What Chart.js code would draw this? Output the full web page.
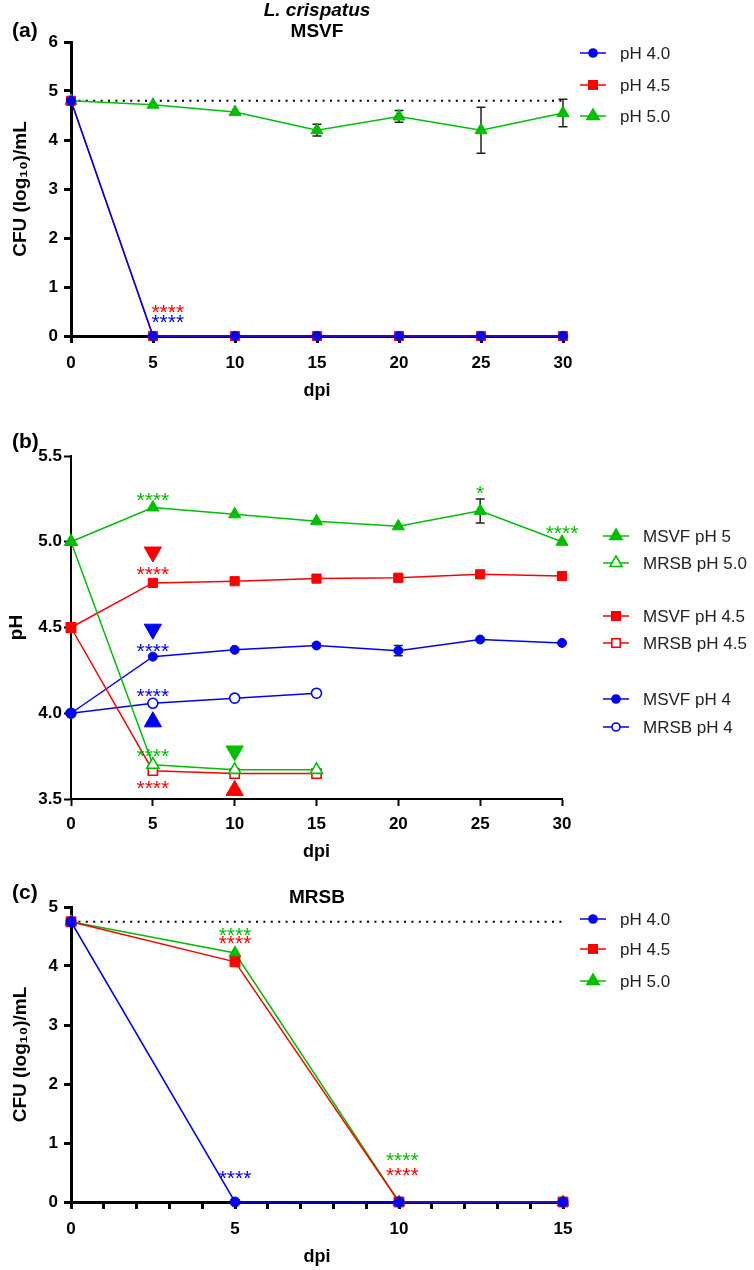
<!DOCTYPE html>
<html>
<head>
<meta charset="utf-8">
<script src="https://cdn.jsdelivr.net/npm/chart.js@4.4.1/dist/chart.umd.min.js"></script>
<style>
  body { margin: 0; background: #fff; }
  #wrap { position: relative; width: 754px; height: 1270px; overflow: hidden; }
  canvas { position: absolute; left: 0; }
</style>
</head>
<body>
<div id="wrap">
  <canvas id="chartA" width="754" height="410" style="top:0px"></canvas>
  <canvas id="chartB" width="754" height="470" style="top:400px"></canvas>
  <canvas id="chartC" width="754" height="400" style="top:870px"></canvas>
</div>
<script>
// ---- data (a) L. crispatus in MSVF, CFU
var daysA = [0, 5, 10, 15, 20, 25, 30];
var cfuA_pH40 = [4.8, 0, 0, 0, 0, 0, 0];
var cfuA_pH45 = [4.8, 0, 0, 0, 0, 0, 0];
var cfuA_pH50 = [4.8, 4.72, 4.57, 4.2, 4.48, 4.2, 4.55];
var cfuA_pH50_err = [0, 0, 0, 0.12, 0.12, 0.47, 0.28];
var limitA = 4.8;

// ---- data (b) pH over time
var daysB = [0, 5, 10, 15, 20, 25, 30];
var daysBshort = [0, 5, 10, 15];
var phMSVF5 = [5.0, 5.2, 5.16, 5.12, 5.09, 5.18, 5.0];
var phMSVF5_err = [0, 0, 0, 0, 0, 0.07, 0];
var phMRSB5 = [5.0, 3.7, 3.67, 3.67];
var phMSVF45 = [4.5, 4.76, 4.77, 4.785, 4.79, 4.81, 4.8];
var phMRSB45 = [4.5, 3.665, 3.648, 3.648];
var phMSVF4 = [4.0, 4.33, 4.37, 4.395, 4.365, 4.43, 4.41];
var phMSVF4_err = [0, 0, 0, 0, 0.03, 0, 0];
var phMRSB4 = [4.0, 4.058, 4.088, 4.117];

// ---- data (c) MRSB, CFU
var daysC = [0, 5, 10, 15];
var cfuC_pH40 = [4.75, 0, 0, 0];
var cfuC_pH45 = [4.75, 4.07, 0, 0];
var cfuC_pH50 = [4.75, 4.22, 0, 0];
var limitC = 4.75;

// significance marks (day, value, text)
var starsA = [[5.9, 0.58, '****', 'red'], [5.9, 0.38, '****', 'blue']];
var starsB = [[5, 5.27, '****', 'green'], [5, 4.84, '****', 'red'], [5, 4.39, '****', 'blue'],
              [5, 4.13, '****', 'blue'], [5, 3.78, '****', 'green'], [5, 3.59, '****', 'red'],
              [25, 5.31, '*', 'green'], [30, 5.08, '****', 'green']];
var starsC = [[5, 4.60, '****', 'green'], [5, 4.47, '****', 'red'], [5, 0.48, '****', 'blue'],
              [10.1, 0.79, '****', 'green'], [10.1, 0.54, '****', 'red']];
// arrow heads in (b)
var arrowsDown = [[5, 4.94, 'red'], [5, 4.49, 'blue'], [10, 3.78, 'green']];
var arrowsUp = [[5, 3.95, 'blue'], [10, 3.55, 'red']];

var COL = { blue: '#0000ff', red: '#ff0000', green: '#00c000' };
var FONT = "'Liberation Sans', Arial, sans-serif";

function pts(xs, ys) {
    return xs.map(function (x, i) { return { x: x, y: ys[i] }; });
}

function lineSet(label, xs, ys, color, style, r, filled, err) {
    return {
        label: label,
        data: pts(xs, ys),
        borderColor: color,
        borderWidth: 1.5,
        backgroundColor: color,
        pointStyle: style,
        pointRadius: r,
        pointBorderColor: color,
        pointBorderWidth: filled ? 1 : 1.6,
        pointBackgroundColor: filled ? color : '#fff',
        clip: false,
        errors: err
    };
}

function limitSet(xmax, y) {
    return {
        label: 'limit',
        data: [{ x: 0, y: y }, { x: xmax, y: y }],
        borderColor: '#000',
        borderWidth: 2,
        borderDash: [2, 5.4],
        pointRadius: 0,
        clip: false
    };
}

function drawMarker(ctx, style, x, y, r, color, filled) {
    ctx.save();
    ctx.beginPath();
    if (style === 'circle') {
        ctx.arc(x, y, r, 0, Math.PI * 2);
    } else if (style === 'rect') {
        var s = r * Math.SQRT1_2;
        ctx.rect(x - s, y - s, 2 * s, 2 * s);
    } else {
        var a = 0, k;
        for (k = 0; k < 3; k++) {
            var px = x + Math.sin(a) * r, py = y - Math.cos(a) * r;
            if (k === 0) ctx.moveTo(px, py); else ctx.lineTo(px, py);
            a += Math.PI * 2 / 3;
        }
        ctx.closePath();
    }
    ctx.fillStyle = filled ? color : '#fff';
    ctx.fill();
    ctx.lineWidth = 1.6;
    ctx.strokeStyle = color;
    ctx.stroke();
    ctx.restore();
}

// error bars, stars, legend and free texts
var extras = {
    id: 'extras',
    beforeDatasetsDraw: function (chart) {
        var ctx = chart.ctx, xs = chart.scales.x, ys = chart.scales.y;
        chart.data.datasets.forEach(function (ds) {
            if (!ds.errors) return;
            ds.data.forEach(function (p, i) {
                var e = ds.errors[i];
                if (!e) return;
                var px = xs.getPixelForValue(p.x);
                var y1 = ys.getPixelForValue(p.y + e), y2 = ys.getPixelForValue(p.y - e);
                ctx.save();
                ctx.strokeStyle = '#222';
                ctx.lineWidth = 1.5;
                ctx.beginPath();
                ctx.moveTo(px, y1); ctx.lineTo(px, y2);
                ctx.moveTo(px - 4.5, y1); ctx.lineTo(px + 4.5, y1);
                ctx.moveTo(px - 4.5, y2); ctx.lineTo(px + 4.5, y2);
                ctx.stroke();
                ctx.restore();
            });
        });
    },
    afterDraw: function (chart, args, opts) {
        var ctx = chart.ctx, xs = chart.scales.x, ys = chart.scales.y;
        ctx.save();
        (opts.stars || []).forEach(function (s) {
            var size = 21;
            ctx.font = size + 'px ' + FONT;
            ctx.fillStyle = COL[s[3]];
            ctx.textAlign = 'center';
            ctx.textBaseline = 'alphabetic';
            ctx.fillText(s[2], xs.getPixelForValue(s[0]), ys.getPixelForValue(s[1]) + size * 0.56);
        });
        (opts.texts || []).forEach(function (t) {
            ctx.font = t.font;
            ctx.fillStyle = '#000';
            ctx.textAlign = t.align || 'center';
            ctx.textBaseline = 'middle';
            ctx.fillText(t.text, t.x, t.y);
        });
        var lg = opts.legend;
        if (lg) {
            lg.items.forEach(function (it) {
                ctx.strokeStyle = it.color;
                ctx.lineWidth = 1.5;
                ctx.beginPath();
                ctx.moveTo(lg.x, it.y); ctx.lineTo(lg.x + 26, it.y);
                ctx.stroke();
                drawMarker(ctx, it.style, lg.x + 13, it.y, it.r, it.color, it.filled);
                ctx.font = '17px ' + FONT;
                ctx.fillStyle = '#222';
                ctx.textAlign = 'left';
                ctx.textBaseline = 'middle';
                ctx.fillText(it.label, lg.x + 40, it.y + 1);
            });
        }
        ctx.restore();
    }
};

function axes(o) {
    var bw = o.bw;
    return {
        x: {
            type: 'linear', min: o.xmin, max: o.xmax,
            afterFit: function (s) { s.height = o.xh; },
            border: { display: true, color: '#000', width: bw },
            grid: { drawOnChartArea: false, drawTicks: true, tickLength: 7, tickWidth: bw, tickColor: '#000' },
            ticks: {
                stepSize: o.xstep, color: '#000', padding: o.xpad, maxRotation: 0, autoSkip: false,
                font: { family: FONT, size: 17, weight: 'bold' },
                callback: function (v) { return v % 5 === 0 ? String(v) : ''; }
            },
            title: { display: true, text: 'dpi', color: '#000', padding: { top: 0, bottom: 0 },
                     font: { family: FONT, size: 18, weight: 'bold' } }
        },
        y: {
            min: o.ymin, max: o.ymax,
            afterFit: function (s) { s.width = 71; },
            border: { display: true, color: '#000', width: bw },
            grid: { drawOnChartArea: false, drawTicks: true, tickLength: 7, tickWidth: bw, tickColor: '#000' },
            ticks: {
                stepSize: o.ystep, color: '#000', padding: o.ypad,
                font: { family: FONT, size: 17, weight: 'bold' },
                callback: o.yfmt || function (v) { return String(v); }
            },
            title: { display: true, text: o.ytitle, color: '#000', padding: { top: o.ytpad, bottom: 0 },
                     font: { family: FONT, size: 19, weight: 'bold' } }
        }
    };
}

Chart.defaults.font.family = FONT;

// ---------- (a)
new Chart(document.getElementById('chartA'), {
    type: 'line',
    data: {
        datasets: [
            lineSet('pH 4.0', daysA, cfuA_pH40, COL.blue, 'circle', 4.5, true),
            lineSet('pH 4.5', daysA, cfuA_pH45, COL.red, 'rect', 6.5, true),
            lineSet('pH 5.0', daysA, cfuA_pH50, COL.green, 'triangle', 7, true, cfuA_pH50_err),
            limitSet(30, limitA)
        ]
    },
    options: {
        responsive: false, animation: false, events: [],
        layout: { padding: { top: 42, right: 191, bottom: 8, left: 0 } },
        scales: axes({ xmin: 0, xmax: 30, xstep: 5, xh: 66, xpad: 10, ymin: 0, ymax: 6, ystep: 1, bw: 3, ypad: 6,
                       ytitle: 'CFU (log\u2081\u2080)/mL', ytpad: 9 }),
        plugins: {
            legend: { display: false }, tooltip: { enabled: false },
            extras: {
                stars: starsA,
                texts: [
                    { text: '(a)', x: 12, y: 31, font: 'bold 21px ' + FONT, align: 'left' },
                    { text: 'L. crispatus', x: 317, y: 11, font: 'italic bold 19px ' + FONT },
                    { text: 'MSVF', x: 317, y: 32, font: 'bold 19px ' + FONT }
                ],
                legend: { x: 580, items: [
                    { label: 'pH 4.0', y: 53, color: COL.blue, style: 'circle', r: 4, filled: true },
                    { label: 'pH 4.5', y: 85, color: COL.red, style: 'rect', r: 6, filled: true },
                    { label: 'pH 5.0', y: 116, color: COL.green, style: 'triangle', r: 7, filled: true }
                ] }
            }
        }
    },
    plugins: [extras]
});

// ---------- (b)
function arrowSet(list, rot) {
    return {
        label: 'arrows',
        type: 'scatter',
        data: list.map(function (a) { return { x: a[0], y: a[1] }; }),
        pointStyle: 'triangle',
        pointRotation: rot,
        pointRadius: 10,
        pointBackgroundColor: list.map(function (a) { return COL[a[2]]; }),
        pointBorderColor: list.map(function (a) { return COL[a[2]]; }),
        showLine: false,
        clip: false
    };
}

new Chart(document.getElementById('chartB'), {
    type: 'line',
    data: {
        datasets: [
            lineSet('MSVF pH 5', daysB, phMSVF5, COL.green, 'triangle', 7, true, phMSVF5_err),
            lineSet('MRSB pH 5.0', daysBshort, phMRSB5, COL.green, 'triangle', 7, false),
            lineSet('MSVF pH 4.5', daysB, phMSVF45, COL.red, 'rect', 6.5, true),
            lineSet('MRSB pH 4.5', daysBshort, phMRSB45, COL.red, 'rect', 6.5, false),
            lineSet('MSVF pH 4', daysB, phMSVF4, COL.blue, 'circle', 4.5, true, phMSVF4_err),
            lineSet('MRSB pH 4', daysBshort, phMRSB4, COL.blue, 'circle', 5, false),
            arrowSet(arrowsDown, 180),
            arrowSet(arrowsUp, 0)
        ]
    },
    options: {
        responsive: false, animation: false, events: [],
        layout: { padding: { top: 56, right: 192, bottom: 7, left: 0 } },
        scales: axes({ xmin: 0, xmax: 30, xstep: 5, xh: 64, xpad: 8, ymin: 3.5, ymax: 5.5, ystep: 0.5, bw: 2, ypad: 2,
                       ytitle: 'pH', ytpad: 5, yfmt: function (v) { return v.toFixed(1); } }),
        plugins: {
            legend: { display: false }, tooltip: { enabled: false },
            extras: {
                stars: starsB,
                texts: [
                    { text: '(b)', x: 12, y: 42, font: 'bold 21px ' + FONT, align: 'left' }
                ],
                legend: { x: 603, items: [
                    { label: 'MSVF pH 5', y: 136, color: COL.green, style: 'triangle', r: 7, filled: true },
                    { label: 'MRSB pH 5.0', y: 163, color: COL.green, style: 'triangle', r: 7, filled: false },
                    { label: 'MSVF pH 4.5', y: 216, color: COL.red, style: 'rect', r: 6, filled: true },
                    { label: 'MRSB pH 4.5', y: 243, color: COL.red, style: 'rect', r: 6, filled: false },
                    { label: 'MSVF pH 4', y: 299, color: COL.blue, style: 'circle', r: 4, filled: true },
                    { label: 'MRSB pH 4', y: 327, color: COL.blue, style: 'circle', r: 4, filled: false }
                ] }
            }
        }
    },
    plugins: [extras]
});

// ---------- (c)
new Chart(document.getElementById('chartC'), {
    type: 'line',
    data: {
        datasets: [
            lineSet('pH 4.0', daysC, cfuC_pH40, COL.blue, 'circle', 5, true),
            lineSet('pH 4.5', daysC, cfuC_pH45, COL.red, 'rect', 7, true),
            lineSet('pH 5.0', daysC, cfuC_pH50, COL.green, 'triangle', 7, true),
            limitSet(15, limitC)
        ]
    },
    options: {
        responsive: false, animation: false, events: [],
        layout: { padding: { top: 37, right: 191, bottom: 2, left: 0 } },
        scales: axes({ xmin: 0, xmax: 15, xstep: 1, xh: 66, xpad: 10, ymin: 0, ymax: 5, ystep: 1, bw: 3, ypad: 6,
                       ytitle: 'CFU (log\u2081\u2080)/mL', ytpad: 9 }),
        plugins: {
            legend: { display: false }, tooltip: { enabled: false },
            extras: {
                stars: starsC,
                texts: [
                    { text: '(c)', x: 12, y: 23, font: 'bold 21px ' + FONT, align: 'left' },
                    { text: 'MRSB', x: 317, y: 28, font: 'bold 19px ' + FONT }
                ],
                legend: { x: 580, items: [
                    { label: 'pH 4.0', y: 49, color: COL.blue, style: 'circle', r: 4, filled: true },
                    { label: 'pH 4.5', y: 79, color: COL.red, style: 'rect', r: 6, filled: true },
                    { label: 'pH 5.0', y: 111, color: COL.green, style: 'triangle', r: 7, filled: true }
                ] }
            }
        }
    },
    plugins: [extras]
});
</script>
</body>
</html>
